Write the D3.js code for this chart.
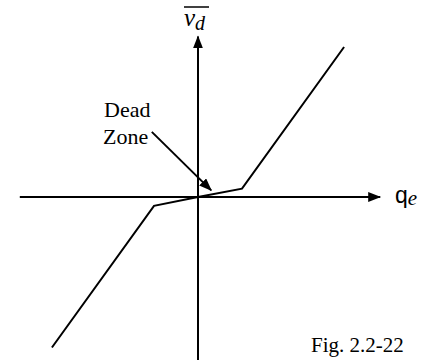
<!DOCTYPE html>
<html>
<head>
<meta charset="utf-8">
<script src="https://cdn.jsdelivr.net/npm/d3@7"></script>
<style>
  html, body { margin: 0; padding: 0; background: #fff; }
  svg { display: block; }
  .serif { font-family: "Liberation Serif", "Times New Roman", serif; fill: #000; }
</style>
</head>
<body>
<svg id="chart" width="439" height="360"></svg>
<script>
// Dead-zone characteristic: error input q_e vs. average output v_d
const qe = [-3.32, -1.0, 0, 1.0, 3.32];
const vd = [-3.42, -0.2, 0, 0.19, 3.41];

// Axis extents (data units)
const axisX = [-4.05, 4.14];
const axisY = [-3.7, 3.65];

const svg = d3.select("#chart");

const x = d3.scaleLinear().domain([-4, 4]).range([22, 374]);
const y = d3.scaleLinear().domain([-4, 4]).range([373, 21]);

// Arrowhead marker
const defs = svg.append("defs");
defs.append("marker")
  .attr("id", "arrow")
  .attr("viewBox", "0 0 13 10")
  .attr("refX", 12).attr("refY", 5)
  .attr("markerWidth", 13).attr("markerHeight", 10)
  .attr("markerUnits", "userSpaceOnUse")
  .attr("orient", "auto")
  .append("path")
  .attr("d", "M0,0 L13,5 L0,10 Z")
  .attr("fill", "#000");

// Horizontal axis
svg.append("line")
  .attr("x1", x(axisX[0])).attr("y1", y(0))
  .attr("x2", x(axisX[1])).attr("y2", y(0))
  .attr("stroke", "#000").attr("stroke-width", 2)
  .attr("marker-end", "url(#arrow)");

// Vertical axis
svg.append("line")
  .attr("x1", x(0)).attr("y1", 362)
  .attr("x2", x(0)).attr("y2", y(axisY[1]))
  .attr("stroke", "#000").attr("stroke-width", 2)
  .attr("marker-end", "url(#arrow)");

// Characteristic curve
const pts = qe.map((q, i) => [q, vd[i]]);
svg.append("path")
  .datum(pts)
  .attr("d", d3.line().x(d => x(d[0])).y(d => y(d[1])))
  .attr("fill", "none")
  .attr("stroke", "#000")
  .attr("stroke-width", 2)
  .attr("stroke-linejoin", "miter");

// "Dead Zone" label with pointer
svg.append("text").attr("class", "serif")
  .attr("x", 104).attr("y", 117).attr("font-size", 22).text("Dead");
svg.append("text").attr("class", "serif")
  .attr("x", 103).attr("y", 144).attr("font-size", 22).text("Zone");
svg.append("line")
  .attr("x1", x(-1.05)).attr("y1", y(1.48))
  .attr("x2", x(0.3)).attr("y2", y(0.15))
  .attr("stroke", "#000").attr("stroke-width", 2)
  .attr("marker-end", "url(#arrow)");

// Vertical axis label: v̄_d
const vl = svg.append("text").attr("class", "serif")
  .attr("x", 184).attr("y", 26).attr("font-size", 25).attr("font-style", "italic");
vl.append("tspan").text("v");
vl.append("tspan").attr("font-size", 20).attr("dy", 4).text("d");
svg.append("line")
  .attr("x1", 184).attr("x2", 209).attr("y1", 7).attr("y2", 7)
  .attr("stroke", "#000").attr("stroke-width", 1.5);

// Horizontal axis label: q_e
const hl = svg.append("text")
  .attr("x", 395).attr("y", 203);
hl.append("tspan")
  .attr("font-family", "'Liberation Sans', Arial, sans-serif")
  .attr("font-size", 23).text("q");
hl.append("tspan")
  .attr("font-family", "'Liberation Serif', 'Times New Roman', serif")
  .attr("font-style", "italic").attr("font-size", 21).attr("dy", 2).text("e");

// Figure caption
svg.append("text").attr("class", "serif")
  .attr("x", 311).attr("y", 352).attr("font-size", 21).text("Fig. 2.2-22");
</script>
</body>
</html>
